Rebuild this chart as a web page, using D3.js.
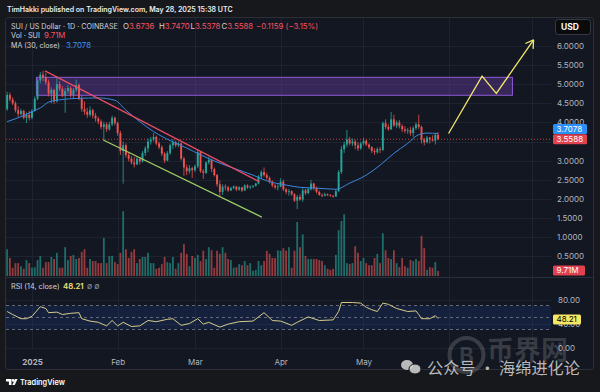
<!DOCTYPE html>
<html>
<head>
<meta charset="utf-8">
<script src="https://cdn.jsdelivr.net/npm/d3@7"></script>
<style>
  html, body { margin: 0; padding: 0; background: #17181b; }
  svg { display: block; font-family: Inter, "Noto Sans", sans-serif; }
</style>
</head>
<body>
<svg id="chart" width="600" height="392"></svg>
<script>
// daily candles start on this date, one row per day: [open, high, low, close]
const startDay = "2024-12-23";
const candles = [
  // Dec 23 - Dec 31
  [4.35,4.80,4.30,4.72],[4.72,4.78,4.55,4.60],[4.60,4.66,4.45,4.50],[4.50,4.55,4.26,4.32],[4.32,4.42,4.15,4.22],
  [4.22,4.36,4.18,4.30],[4.30,4.33,4.08,4.12],[4.12,4.26,3.98,4.20],[4.20,4.30,4.05,4.12],
  // January
  [4.12,4.35,4.08,4.30],[4.30,4.68,4.28,4.62],[4.62,5.15,4.58,5.10],[5.10,5.32,5.02,5.25],[5.25,5.35,5.08,5.18],
  [5.18,5.30,4.98,5.05],[5.05,5.12,4.68,4.75],[4.75,4.92,4.50,4.85],[4.85,4.88,4.48,4.55],[4.55,5.19,4.52,5.00],
  [5.00,5.08,4.82,4.88],[4.88,4.95,4.66,4.70],[4.70,4.90,4.25,4.82],[4.82,4.98,4.75,4.90],[4.90,4.95,4.65,4.72],
  [4.72,4.90,4.62,4.85],[4.85,5.12,4.80,4.98],[4.98,5.02,4.58,4.62],[4.62,4.70,4.28,4.35],[4.35,4.55,4.20,4.28],
  [4.28,4.38,4.12,4.20],[4.20,4.42,4.15,4.32],[4.32,4.36,4.10,4.18],[4.18,4.25,4.02,4.10],[4.10,4.15,3.95,4.02],
  [4.02,4.08,3.82,3.88],[3.88,4.02,3.54,3.95],[3.95,4.00,3.75,3.82],[3.82,4.02,3.78,3.95],[3.95,4.18,3.90,4.12],
  [4.12,4.15,3.92,3.98],
  // February
  [3.98,4.02,3.65,3.72],[3.72,3.78,3.15,3.25],[3.25,3.50,2.40,3.40],[3.40,3.45,3.08,3.15],[3.15,3.22,2.98,3.05],
  [3.05,3.12,2.90,2.95],[2.95,3.10,2.82,2.90],[2.90,3.10,2.88,3.05],[3.05,3.10,2.90,2.98],[2.98,3.25,2.95,3.20],
  [3.20,3.38,3.12,3.32],[3.32,3.58,3.22,3.50],[3.50,3.62,3.42,3.55],[3.55,3.72,3.50,3.62],[3.62,3.65,3.40,3.45],
  [3.45,3.50,3.30,3.35],[3.35,3.40,3.12,3.18],[3.18,3.22,2.94,3.00],[3.00,3.25,2.98,3.20],[3.20,3.45,3.15,3.40],
  [3.40,3.56,3.30,3.48],[3.48,3.52,3.35,3.40],[3.40,3.50,3.35,3.45],[3.45,3.48,3.00,3.05],[3.05,3.10,2.60,2.82],
  [2.82,2.90,2.62,2.72],[2.72,2.88,2.66,2.80],[2.80,2.84,2.55,2.75],
  // March
  [2.75,2.90,2.70,2.85],[2.85,3.28,2.80,3.22],[3.22,3.25,2.68,2.72],[2.72,2.78,2.52,2.68],[2.68,2.98,2.65,2.95],
  [2.95,3.10,2.90,3.02],[3.02,3.05,2.70,2.78],[2.78,2.82,2.58,2.62],[2.62,2.65,2.32,2.38],[2.38,2.48,2.05,2.18],
  [2.18,2.38,2.10,2.32],[2.32,2.38,2.22,2.30],[2.30,2.34,2.18,2.22],[2.22,2.32,2.20,2.28],[2.28,2.35,2.25,2.32],
  [2.32,2.34,2.20,2.24],[2.24,2.33,2.21,2.30],[2.30,2.31,2.18,2.22],[2.22,2.38,2.20,2.35],[2.35,2.38,2.26,2.30],
  [2.30,2.35,2.25,2.32],[2.32,2.36,2.28,2.34],[2.34,2.42,2.32,2.40],[2.40,2.62,2.38,2.58],[2.58,2.75,2.52,2.70],
  [2.70,2.82,2.58,2.62],[2.62,2.68,2.50,2.55],[2.55,2.58,2.40,2.45],[2.45,2.48,2.30,2.35],[2.35,2.38,2.25,2.30],
  [2.30,2.38,2.22,2.32],
  // April
  [2.32,2.54,2.30,2.45],[2.45,2.50,2.20,2.25],[2.25,2.28,2.12,2.18],[2.18,2.26,2.08,2.20],[2.20,2.22,2.08,2.12],
  [2.12,2.15,1.92,1.95],[1.95,2.10,1.73,2.05],[2.05,2.12,1.95,1.98],[1.98,2.28,1.92,2.22],[2.22,2.26,2.10,2.15],
  [2.15,2.30,2.12,2.25],[2.25,2.49,2.22,2.40],[2.40,2.42,2.22,2.28],[2.28,2.32,2.14,2.18],[2.18,2.22,2.08,2.10],
  [2.10,2.14,2.04,2.08],[2.08,2.16,2.06,2.12],[2.12,2.14,2.07,2.10],[2.10,2.12,2.05,2.08],[2.08,2.10,2.03,2.06],
  [2.06,2.25,2.05,2.20],[2.20,2.75,2.18,2.70],[2.70,3.38,2.65,3.30],[3.30,3.50,3.20,3.42],[3.42,3.80,3.35,3.55],
  [3.55,3.62,3.40,3.45],[3.45,3.58,3.38,3.50],[3.50,3.55,3.30,3.40],[3.40,3.48,3.25,3.32],[3.32,3.50,3.28,3.45],
  // May
  [3.45,3.60,3.40,3.52],[3.52,3.55,3.38,3.42],[3.42,3.45,3.30,3.35],[3.35,3.38,3.20,3.25],[3.25,3.32,3.15,3.22],
  [3.22,3.35,3.18,3.30],[3.30,3.36,3.20,3.28],[3.28,4.02,3.25,3.98],[3.98,4.08,3.82,3.88],[3.88,3.95,3.78,3.82],
  [3.82,4.27,3.80,4.08],[4.08,4.20,3.88,3.92],[3.92,4.05,3.85,4.00],[4.00,4.06,3.84,3.90],[3.90,3.95,3.75,3.82],
  [3.82,3.90,3.72,3.78],[3.78,3.85,3.70,3.80],[3.80,3.88,3.65,3.72],[3.72,3.90,3.62,3.85],[3.85,4.00,3.80,3.95],
  [3.95,4.20,3.82,3.88],[3.88,3.92,3.45,3.55],[3.55,3.60,3.40,3.48],[3.48,3.65,3.45,3.60],[3.60,3.62,3.45,3.55],
  [3.55,3.66,3.50,3.52],[3.52,3.72,3.42,3.6747],[3.6736,3.7470,3.5378,3.5588]
];

// volume in millions of SUI, same days as candles
const volumes = [
  52,35,16,25,25,19,14,31,25,16,  17,31,39,16,27,27,37,33,45,16,
  16,56,31,39,41,33,35,47,52,16,  33,29,29,25,25,74,25,39,39,27,
  23,45,126,52,35,47,52,25,33,37, 37,45,25,25,14,16,23,37,27,25,
  37,14,25,45,62,43,19,39,35,41,  29,49,33,56,50,16,49,43,56,45,
  33,31,16,17,23,21,29,21,25,10,  12,29,21,29,49,43,35,35,50,49,
  54,49,56,16,49,105,56,81,39,33, 33,33,33,31,29,21,14,12,14,41,
  89,107,120,25,23,25,58,45,29,35, 25,21,21,35,43,25,83,50,35,33,
  50,25,17,35,19,16,31,29,33,29,  78,54,12,17,16,27,9.71
];

// MA (30, close)
const maPoints = [
  ["2024-12-23",4.02],["2024-12-28",4.15],["2025-01-01",4.28],["2025-01-04",4.38],["2025-01-07",4.53],
  ["2025-01-11",4.59],["2025-01-18",4.63],["2025-01-25",4.64],["2025-01-31",4.58],["2025-02-04",4.32],
  ["2025-02-09",4.02],["2025-02-14",3.76],["2025-02-21",3.49],["2025-02-26",3.33],["2025-03-03",3.15],
  ["2025-03-07",3.02],["2025-03-15",2.80],["2025-03-22",2.62],["2025-03-27",2.47],["2025-04-03",2.36],
  ["2025-04-08",2.30],["2025-04-14",2.28],["2025-04-21",2.25],["2025-04-26",2.41],["2025-05-02",2.62],
  ["2025-05-07",2.88],["2025-05-12",3.19],["2025-05-17",3.45],["2025-05-21",3.68],["2025-05-24",3.72],
  ["2025-05-28",3.7078]
];

// RSI (14, close)
const rsiPoints = [
  ["2024-12-23",60],["2024-12-25",55],["2024-12-28",48],["2024-12-30",48],["2025-01-01",52],["2025-01-04",68],
  ["2025-01-06",65],["2025-01-07",58],["2025-01-10",59],["2025-01-12",55],["2025-01-15",57],["2025-01-18",58],
  ["2025-01-19",48],["2025-01-22",44],["2025-01-25",42],["2025-01-28",36],["2025-01-30",45],["2025-02-01",36],
  ["2025-02-03",42],["2025-02-06",35],["2025-02-09",36],["2025-02-12",45],["2025-02-15",43],["2025-02-19",47],
  ["2025-02-21",48],["2025-02-24",37],["2025-02-27",40],["2025-03-02",48],["2025-03-04",39],["2025-03-06",42],
  ["2025-03-10",34],["2025-03-13",39],["2025-03-17",43],["2025-03-22",44],["2025-03-26",58],["2025-03-29",45],
  ["2025-04-01",44],["2025-04-05",37],["2025-04-07",42],["2025-04-11",51],["2025-04-15",45],["2025-04-20",46],
  ["2025-04-22",60],["2025-04-23",75],["2025-04-27",75],["2025-04-30",74],["2025-05-02",67],["2025-05-04",63],
  ["2025-05-06",60],["2025-05-08",74],["2025-05-10",72],["2025-05-13",65],["2025-05-17",60],["2025-05-20",61],
  ["2025-05-21",55],["2025-05-22",48],["2025-05-25",48],["2025-05-27",53],["2025-05-28",48.21]
];

const priceTicks = [0.5, 1, 1.5, 2, 2.5, 3, 3.5, 4, 4.5, 5, 5.5, 6];
const rsiTicks = [0, 40, 80];
const rsiLevels = [70, 50, 30];
const monthTicks = ["2025-01-01","2025-02-01","2025-03-01","2025-04-01","2025-05-01","2025-06-01","2025-07-01"];
const monthLabels = ["2025","Feb","Mar","Apr","May","",""];

// drawings made on the chart
const zone = { from: "2025-01-02T14:00", to: "2025-06-23T22:00", top: 5.18, bottom: 4.71 };
const redTrend = [["2025-01-05T17:00", 5.35], ["2025-03-24T05:00", 2.45]];
const greenTrend = [["2025-01-26T19:00", 3.54], ["2025-03-25T05:00", 1.52]];
const projection = [["2025-05-31T19:00", 3.71], ["2025-06-12T22:00", 5.21], ["2025-06-18T02:00", 4.76], ["2025-07-01T14:00", 6.16]];

const green = "#26a69a", red = "#ef5350";

const svg = d3.select("#chart");
const parseDay = d3.utcParse("%Y-%m-%d");
const parseT = s => s.length > 10 ? d3.utcParse("%Y-%m-%dT%H:%M")(s) : parseDay(s);

// scales
const x = d3.scaleUtc()
  .domain([parseDay("2025-01-01"), parseDay("2025-07-01")])
  .range([32, 532]);
const y = d3.scaleLinear().domain([1, 6]).range([237, 46]);
const yVol = d3.scaleLinear().domain([0, 136]).range([276, 206]);
const yRsi = d3.scaleLinear().domain([0, 80]).range([347.5, 299.5]);

const bars = candles.map((c, i) => ({
  date: d3.utcDay.offset(parseDay(startDay), i),
  o: c[0], h: c[1], l: c[2], c: c[3], v: volumes[i]
}));
const last = bars[bars.length - 1];

// background + panel
svg.append("rect").attr("width", 600).attr("height", 392).attr("fill", "#17181b");
svg.append("rect")
  .attr("x", 5.5).attr("y", 17.5).attr("width", 588).attr("height", 352).attr("rx", 3)
  .attr("fill", "#131722").attr("stroke", "#2c2f38");

const defs = svg.append("defs");
defs.append("clipPath").attr("id", "clipMain")
  .append("rect").attr("x", 6).attr("y", 18).attr("width", 545).attr("height", 258);
defs.append("clipPath").attr("id", "clipRsi")
  .append("rect").attr("x", 6).attr("y", 278).attr("width", 545).attr("height", 72);

// grid
const grid = svg.append("g").attr("stroke", "#1e2330").attr("stroke-width", 1);
grid.selectAll(".hg").data(priceTicks).join("line")
  .attr("x1", 6).attr("x2", 551)
  .attr("y1", d => Math.round(y(d)) + 0.5).attr("y2", d => Math.round(y(d)) + 0.5);
grid.selectAll(".rg").data(rsiTicks).join("line")
  .attr("x1", 6).attr("x2", 551)
  .attr("y1", d => Math.round(yRsi(d)) + 0.5).attr("y2", d => Math.round(yRsi(d)) + 0.5);
grid.selectAll(".vg").data(monthTicks).join("line")
  .attr("x1", d => Math.round(x(parseDay(d))) + 0.5).attr("x2", d => Math.round(x(parseDay(d))) + 0.5)
  .attr("y1", 18).attr("y2", 350);

// pane separator
svg.append("line").attr("x1", 6).attr("x2", 593).attr("y1", 277.5).attr("y2", 277.5).attr("stroke", "#2a2e39");

// price axis (labels hidden under the last price tag are dropped, as on the chart)
const pAxis = svg.append("g")
  .attr("transform", "translate(557,0)")
  .call(d3.axisRight(y).tickValues(priceTicks.filter(d => Math.abs(y(d) - y(last.c)) > 6))
    .tickFormat(d3.format(".4f")).tickSize(0).tickPadding(0));
pAxis.select(".domain").remove();
pAxis.selectAll("text").attr("fill", "#b2b5be").attr("font-size", 8).attr("font-family", "Inter, sans-serif");

// rsi axis
const rAxis = svg.append("g")
  .attr("transform", "translate(558,0)")
  .call(d3.axisRight(yRsi).tickValues(rsiTicks).tickFormat(d3.format(".2f")).tickSize(0).tickPadding(0));
rAxis.select(".domain").remove();
rAxis.selectAll("text").attr("fill", "#b2b5be").attr("font-size", 8).attr("font-family", "Inter, sans-serif");

// time axis
const tAxis = svg.append("g")
  .attr("transform", "translate(0,357)")
  .call(d3.axisBottom(x).tickValues(monthTicks.map(parseDay))
    .tickFormat((d, i) => monthLabels[i]).tickSize(0).tickPadding(2));
tAxis.select(".domain").remove();
tAxis.selectAll("text").attr("fill", "#b2b5be").attr("font-size", 8).attr("font-family", "Inter, sans-serif")
  .attr("font-weight", (d, i) => i === 0 ? 700 : 400);

// main pane
const main = svg.append("g").attr("clip-path", "url(#clipMain)");

// zone rectangle
main.append("rect")
  .attr("x", x(parseT(zone.from))).attr("y", y(zone.top))
  .attr("width", x(parseT(zone.to)) - x(parseT(zone.from)))
  .attr("height", y(zone.bottom) - y(zone.top))
  .attr("fill", "rgba(120,70,190,0.35)").attr("stroke", "#8e5bd6").attr("stroke-width", 1);

// volume
main.append("g").selectAll("rect").data(bars).join("rect")
  .attr("x", d => x(d.date) - 0.9).attr("width", 1.8)
  .attr("y", d => yVol(d.v)).attr("height", d => yVol(0) - yVol(d.v))
  .attr("fill", d => d.c >= d.o ? green : red).attr("fill-opacity", 0.6);

// last price line
main.append("line")
  .attr("x1", 6).attr("x2", 551).attr("y1", y(last.c)).attr("y2", y(last.c))
  .attr("stroke", red).attr("stroke-dasharray", "1,2").attr("stroke-opacity", 0.8);

// candles
const cg = main.append("g");
cg.selectAll("line").data(bars).join("line")
  .attr("x1", d => x(d.date)).attr("x2", d => x(d.date))
  .attr("y1", d => y(d.h)).attr("y2", d => y(d.l))
  .attr("stroke", d => d.c >= d.o ? green : red).attr("stroke-width", 0.8);
cg.selectAll("rect").data(bars).join("rect")
  .attr("x", d => x(d.date) - 0.95).attr("width", 1.9)
  .attr("y", d => y(Math.max(d.o, d.c)))
  .attr("height", d => Math.max(0.8, Math.abs(y(d.o) - y(d.c))))
  .attr("fill", d => d.c >= d.o ? green : red);

// moving average
main.append("path")
  .datum(maPoints)
  .attr("fill", "none").attr("stroke", "#3d86e0").attr("stroke-width", 1)
  .attr("d", d3.line().x(d => x(parseDay(d[0]))).y(d => y(d[1])).curve(d3.curveMonotoneX));

// trend lines
const lineT = d3.line().x(d => x(parseT(d[0]))).y(d => y(d[1]));
main.append("path").datum(redTrend).attr("d", lineT)
  .attr("fill", "none").attr("stroke", "#e84d63").attr("stroke-width", 1.3);
main.append("path").datum(greenTrend).attr("d", lineT)
  .attr("fill", "none").attr("stroke", "#9ccc65").attr("stroke-width", 1.3);
main.append("path").datum(projection).attr("d", lineT)
  .attr("fill", "none").attr("stroke", "#f3e86a").attr("stroke-width", 1.3).attr("stroke-linejoin", "miter");

// arrow head on the projection
const pA = projection[projection.length - 2], pB = projection[projection.length - 1];
const tipX = x(parseT(pB[0])), tipY = y(pB[1]);
const ang = Math.atan2(tipY - y(pA[1]), tipX - x(parseT(pA[0])));
[-0.55, 0.55].forEach(a => {
  main.append("line")
    .attr("x1", tipX).attr("y1", tipY)
    .attr("x2", tipX - 9 * Math.cos(ang + a)).attr("y2", tipY - 9 * Math.sin(ang + a))
    .attr("stroke", "#f3e86a").attr("stroke-width", 1.3);
});

// RSI pane
const rsiG = svg.append("g").attr("clip-path", "url(#clipRsi)");
rsiG.append("rect")
  .attr("x", 6).attr("width", 545)
  .attr("y", yRsi(rsiLevels[0])).attr("height", yRsi(rsiLevels[2]) - yRsi(rsiLevels[0]))
  .attr("fill", "rgba(41,98,255,0.12)");
rsiG.selectAll(".lvl").data(rsiLevels).join("line")
  .attr("x1", 6).attr("x2", 551).attr("y1", d => yRsi(d)).attr("y2", d => yRsi(d))
  .attr("stroke", "#787b86").attr("stroke-dasharray", "3,3").attr("stroke-width", 0.8);
rsiG.append("path").datum(rsiPoints)
  .attr("fill", "none").attr("stroke", "#d8cc8c").attr("stroke-width", 1)
  .attr("d", d3.line().x(d => x(parseDay(d[0]))).y(d => yRsi(d[1])));

// price scale labels
function tag(yc, text, bg, fg, w) {
  const g = svg.append("g");
  g.append("rect").attr("x", 553).attr("y", yc - 5).attr("width", w).attr("height", 10).attr("rx", 1.5).attr("fill", bg);
  g.append("text").attr("x", 556.5).attr("y", yc).attr("dy", "0.35em")
    .attr("font-size", 8).attr("fill", fg).text(text);
}
const maLast = maPoints[maPoints.length - 1][1];
const rsiLast = rsiPoints[rsiPoints.length - 1][1];
tag(129, d3.format(".4f")(maLast), "#2a8ff7", "#fff", 34);
tag(y(last.c), d3.format(".4f")(last.c), "#e0424f", "#fff", 34);
tag(yVol(last.v) - 0.5, d3.format(".2f")(last.v) + "M", "#e0424f", "#fff", 32);
tag(319.5, d3.format(".2f")(rsiLast), "#f5e663", "#000", 28);

// USD button
svg.append("rect").attr("x", 555.5).attr("y", 19.5).attr("width", 35).attr("height", 15).attr("rx", 3)
  .attr("fill", "#0b0b0c").attr("stroke", "#363a45");
svg.append("text").attr("x", 561).attr("y", 30).attr("font-size", 8.5).attr("font-weight", 700)
  .attr("fill", "#fff").text("USD");

// helper: scale font so a text fits a width
function fit(sel, w) {
  const fs = parseFloat(sel.attr("font-size"));
  const len = sel.node().getComputedTextLength();
  sel.attr("font-size", (fs * w / len).toFixed(2));
  return sel;
}

// header
fit(svg.append("text").attr("x", 7).attr("y", 12).attr("font-size", 8).attr("font-weight", 600)
  .attr("fill", "#ececec").text("TimHakki published on TradingView.com, May 28, 2025 15:38 UTC"), 226);

// legend
const fmt4 = d3.format(".4f");
const prevClose = bars[bars.length - 2].c;
const chg = last.c - prevClose;
const lg = svg.append("g").attr("font-size", 8);
fit(lg.append("text").attr("x", 11).attr("y", 28.5).attr("font-size", 8).attr("fill", "#d1d4dc")
  .text("SUI / US Dollar · 1D · COINBASE"), 107);
[["O", last.o, 123], ["H", last.h, 159], ["L", last.l, 190.5], ["C", last.c, 221.5]].forEach(([k, v, px]) => {
  const t = lg.append("text").attr("x", px).attr("y", 28.5).attr("font-size", 7.8);
  t.append("tspan").attr("fill", "#d1d4dc").text(k);
  t.append("tspan").attr("fill", "#f7525f").text(fmt4(v));
});
lg.append("text").attr("x", 256).attr("y", 28.5).attr("font-size", 7.8).attr("fill", "#f7525f")
  .text(d3.format(".4f")(chg) + " (" + d3.format(".2%")(chg / prevClose) + ")");
fit(lg.append("text").attr("x", 11).attr("y", 37.8).attr("font-size", 8).attr("fill", "#d1d4dc").text("Vol · SUI"), 29);
lg.append("text").attr("x", 44).attr("y", 37.8).attr("font-size", 7.8).attr("fill", "#f7525f")
  .text(d3.format(".2f")(last.v) + "M");
fit(lg.append("text").attr("x", 11).attr("y", 48).attr("font-size", 8).attr("fill", "#d1d4dc").text("MA (30, close)"), 49);
lg.append("text").attr("x", 66).attr("y", 48).attr("font-size", 7.8).attr("fill", "#3d8ff0").text(fmt4(maLast));

// rsi legend
fit(svg.append("text").attr("x", 11).attr("y", 289).attr("font-size", 8).attr("fill", "#d1d4dc").text("RSI (14, close)"), 48.6);
svg.append("text").attr("x", 63).attr("y", 289).attr("font-size", 7.8).attr("font-weight", 600)
  .attr("fill", "#efe27a").text(d3.format(".2f")(rsiLast));
svg.append("text").attr("x", 87).attr("y", 289).attr("font-size", 7.5).attr("fill", "#9598a1").text("∅  ∅");

// TradingView footer
const tv = svg.append("g").attr("fill", "#fff");
tv.append("path").attr("d", "M6 379h5.5v6h-2.6v-3.4H6z");
tv.append("circle").attr("cx", 13.2).attr("cy", 380.4).attr("r", 1.4);
tv.append("path").attr("d", "M12.3 385l2.8-6h2.4l-2.8 6z");
fit(tv.append("text").attr("x", 20).attr("y", 385).attr("font-size", 9).attr("font-weight", 600).text("TradingView"), 45);

// repost watermark
const wm = svg.append("g");
wm.append("circle").attr("cx", 466.5).attr("cy", 355).attr("r", 17)
  .attr("fill", "none").attr("stroke", "rgba(255,255,255,0.16)").attr("stroke-width", 4);
wm.append("text").attr("x", 466.5).attr("y", 363).attr("text-anchor", "middle").attr("font-size", 22)
  .attr("font-weight", 700).attr("fill", "rgba(255,255,255,0.16)").text("B");
wm.append("text").attr("x", 487).attr("y", 360).attr("font-size", 27).attr("font-weight", 700)
  .attr("font-family", "'Noto Sans CJK SC', sans-serif")
  .attr("fill", "rgba(255,255,255,0.16)").text("币界网");
wm.append("ellipse").attr("cx", 407).attr("cy", 365).attr("rx", 6).attr("ry", 5).attr("fill", "rgba(215,215,215,0.85)");
wm.append("ellipse").attr("cx", 415).attr("cy", 369).attr("rx", 6).attr("ry", 5)
  .attr("fill", "rgba(215,215,215,0.85)").attr("stroke", "#17181b").attr("stroke-width", 1);
fit(wm.append("text").attr("x", 427).attr("y", 374).attr("font-size", 15)
  .attr("font-family", "'Noto Sans CJK SC', sans-serif")
  .attr("fill", "rgba(215,215,215,0.85)").text("公众号 · 海绵进化论"), 153);
</script>
</body>
</html>
